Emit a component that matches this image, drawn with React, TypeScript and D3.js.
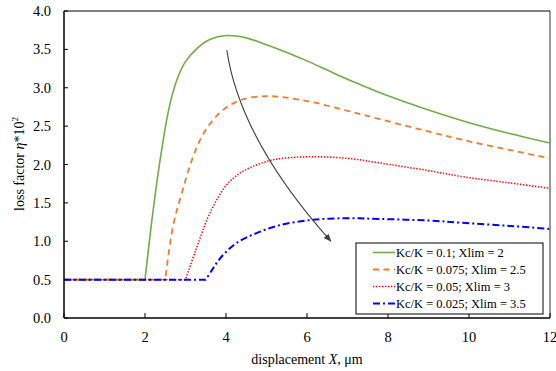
import React from "react";
import * as d3 from "d3";

const W = 556;
const H = 371;

const xTicks = [0, 2, 4, 6, 8, 10, 12];
const yTicks = [0, 0.5, 1, 1.5, 2, 2.5, 3, 3.5, 4];
const baseLevel = 0.5;

// displacement X (µm) and loss factor η*10² for each case, starting at Xlim
const greenX = [2, 2.2, 2.4, 2.6, 2.8, 3.0, 3.3, 3.6, 4.0, 4.5, 5.0, 5.5, 6.0, 6.5, 7.0, 7.5, 8.0, 9.0, 10.0, 11.0, 12.0];
const greenY = [0.5, 1.4, 2.15, 2.75, 3.12, 3.34, 3.52, 3.63, 3.68, 3.65, 3.56, 3.46, 3.35, 3.23, 3.11, 3.0, 2.895, 2.71, 2.545, 2.405, 2.28];

const orangeX = [2.5, 2.69, 2.91, 3.16, 3.4, 3.68, 4.0, 4.42, 5.0, 5.5, 6.15, 7.0, 7.8, 9.0, 9.85, 11.0, 12.0];
const orangeY = [0.5, 1.19, 1.63, 2.06, 2.36, 2.58, 2.74, 2.85, 2.89, 2.87, 2.81, 2.7, 2.59, 2.43, 2.32, 2.19, 2.08];

const redX = [3.0, 3.25, 3.53, 3.75, 4.02, 4.3, 4.6, 5.16, 6.0, 7.0, 7.8, 9.0, 9.85, 11.0, 12.0];
const redY = [0.5, 0.88, 1.28, 1.52, 1.74, 1.87, 1.96, 2.06, 2.1, 2.08, 2.02, 1.92, 1.84, 1.76, 1.69];

const blueX = [3.5, 3.65, 3.8, 4.0, 4.3, 4.77, 5.33, 6.15, 7.0, 7.8, 9.0, 9.85, 11.0, 12.0];
const blueY = [0.5, 0.62, 0.74, 0.86, 0.99, 1.11, 1.21, 1.28, 1.3, 1.29, 1.27, 1.24, 1.2, 1.16];

const seriesNames = [
  "Kc/K = 0.1; Xlim = 2",
  "Kc/K = 0.075; Xlim = 2.5",
  "Kc/K = 0.05; Xlim = 3",
  "Kc/K = 0.025; Xlim = 3.5",
];

// trend arrow in data units: start, control, end
const arrowPts: [number, number][] = [
  [4.02, 3.49],
  [4.35, 2.32],
  [6.59, 1.0],
];

type Style = { color: string; width: number; dash: string };
const styles: Style[] = [
  { color: "#70AD47", width: 1.6, dash: "" },
  { color: "#ED7D31", width: 1.8, dash: "6,4.5" },
  { color: "#FF0000", width: 1.5, dash: "1.4,1.6" },
  { color: "#0000FF", width: 2, dash: "7,3,2,3" },
];

const seriesData = [
  { xs: greenX, ys: greenY },
  { xs: orangeX, ys: orangeY },
  { xs: redX, ys: redY },
  { xs: blueX, ys: blueY },
];

const m = { left: 64, right: 550, top: 11, bottom: 318 };

export default function App() {
  const x = d3.scaleLinear().domain([0, 12]).range([m.left, m.right]);
  const y = d3.scaleLinear().domain([0, 4]).range([m.bottom, m.top]);

  const line = d3
    .line<[number, number]>()
    .x((d) => x(d[0]))
    .y((d) => y(d[1]))
    .curve(d3.curveCatmullRom.alpha(0.5));

  const paths = seriesData.map((s) => {
    const pts: [number, number][] = s.xs.map((v, i) => [v, s.ys[i]]);
    const curve = line(pts) || "";
    return `M${x(0)},${y(baseLevel)}L` + curve.slice(1);
  });

  const [a0, a1, a2] = arrowPts;
  const arrowPath = `M${x(a0[0])},${y(a0[1])}Q${x(a1[0])},${y(a1[1])} ${x(a2[0])},${y(a2[1])}`;

  const font = "'Liberation Serif', 'Times New Roman', serif";
  const legend = { x0: 356, y0: 243, x1: 543, y1: 314, row0: 252.5, step: 17 };

  return (
    <svg
      width={W}
      height={H}
      style={{ position: "absolute", left: 0, top: 0, background: "#fff" }}
      fontFamily={font}
    >
      <defs>
        <marker id="arrowHead" viewBox="0 0 10 10" refX="9" refY="5" markerWidth="8" markerHeight="8" orient="auto" markerUnits="userSpaceOnUse">
          <path d="M0,1 L10,5 L0,9 z" fill="#404040" />
        </marker>
      </defs>

      {/* plot frame */}
      <line x1={m.left} x2={m.right} y1={m.top} y2={m.top} stroke="#000" strokeWidth={1} />
      <line x1={m.right} x2={m.right} y1={m.top} y2={m.bottom} stroke="#333" strokeWidth={1} />

      {/* curves */}
      {paths.map((p, i) => (
        <path
          key={i}
          d={p}
          fill="none"
          stroke={styles[i].color}
          strokeWidth={styles[i].width}
          strokeDasharray={styles[i].dash || undefined}
        />
      ))}

      {/* trend arrow */}
      <path d={arrowPath} fill="none" stroke="#404040" strokeWidth={1.1} markerEnd="url(#arrowHead)" />

      {/* axes */}
      <line x1={m.left} x2={m.left} y1={m.top} y2={m.bottom} stroke="#000" strokeWidth={1.5} />
      <line x1={m.left} x2={m.right} y1={m.bottom} y2={m.bottom} stroke="#000" strokeWidth={1.5} />

      {yTicks.map((t) => (
        <g key={"y" + t}>
          <line x1={m.left} x2={m.left + 4} y1={y(t)} y2={y(t)} stroke="#000" strokeWidth={1} />
          <text x={51} y={y(t)} dy="0.35em" textAnchor="end" fontSize={14.5} fill="#000">
            {d3.format(".1f")(t)}
          </text>
        </g>
      ))}

      {xTicks.map((t) => (
        <g key={"x" + t}>
          <line x1={x(t)} x2={x(t)} y1={m.bottom} y2={m.bottom - 5} stroke="#000" strokeWidth={1} />
          <text x={x(t)} y={342} textAnchor="middle" fontSize={14.5} fill="#000">
            {t}
          </text>
        </g>
      ))}

      {/* axis titles */}
      <text x={(m.left + m.right) / 2} y={364} textAnchor="middle" fontSize={14} fill="#000">
        displacement <tspan fontStyle="italic">X</tspan>, μm
      </text>
      <text transform="translate(24,164) rotate(-90)" textAnchor="middle" fontSize={14} fill="#000">
        loss factor <tspan fontStyle="italic">η</tspan>*10
        <tspan fontSize={9} dy={-6}>2</tspan>
      </text>

      {/* legend */}
      <rect
        x={legend.x0}
        y={legend.y0}
        width={legend.x1 - legend.x0}
        height={legend.y1 - legend.y0}
        fill="#fff"
        stroke="#000"
        strokeWidth={1}
      />
      {seriesNames.map((name, i) => {
        const ry = legend.row0 + i * legend.step;
        return (
          <g key={name}>
            <line
              x1={373}
              x2={395}
              y1={ry}
              y2={ry}
              stroke={styles[i].color}
              strokeWidth={styles[i].width}
              strokeDasharray={styles[i].dash || undefined}
            />
            <text x={396} y={ry} dy="0.35em" fontSize={12.5} fill="#000">
              {name}
            </text>
          </g>
        );
      })}
    </svg>
  );
}
